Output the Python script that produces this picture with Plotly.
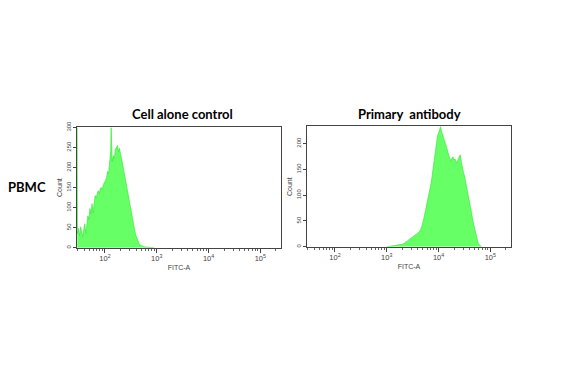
import plotly.graph_objects as go

# ---- data (log10 FITC-A bin positions and event counts) ----
ctrl_log = [1.465,1.47,1.49,1.51,1.53,1.55,1.57,1.59,1.61,1.63,1.65,1.67,1.69,1.71,1.73,1.75,1.77,1.79,1.81,1.83,
            1.85,1.87,1.89,1.91,1.93,1.95,1.97,1.99,2.01,2.03,2.05,2.07,2.09,2.11,2.12,2.13,2.14,2.16,2.18,2.20,
            2.22,2.24,2.26,2.28,2.30,2.32,2.34,2.36,2.38,2.40,2.42,2.44,2.46,2.48,2.50,2.52,2.54,2.56,2.58,2.60,
            2.62,2.64,2.66,2.68,2.70,2.74,2.78,2.82,2.87,2.95]
ctrl_count = [300,35,48,30,52,40,28,45,60,35,55,80,70,98,85,110,88,120,130,125,
              138,142,135,148,150,145,158,162,168,175,190,185,220,240,300,250,215,230,222,245,
              250,255,240,248,235,225,210,195,180,170,155,140,130,115,98,85,70,55,40,30,
              22,15,10,7,5,3,2,1,1,0]

prim_log = [3.00,3.06,3.12,3.18,3.24,3.30,3.34,3.38,3.42,3.46,3.50,3.54,3.58,3.62,3.65,3.68,3.71,3.74,3.77,3.80,
            3.83,3.86,3.89,3.92,3.94,3.96,3.98,4.00,4.02,4.04,4.06,4.08,4.10,4.12,4.14,4.16,4.18,4.20,4.22,4.24,
            4.26,4.28,4.30,4.32,4.34,4.36,4.38,4.40,4.42,4.44,4.46,4.48,4.50,4.52,4.54,4.56,4.58,4.60,4.62,4.64,
            4.66,4.68,4.70,4.72,4.74,4.76,4.78,4.80,4.83]
prim_count = [0,1,2,3,3,5,7,10,13,16,19,22,24,28,33,40,52,65,78,95,
              110,125,150,172,190,205,215,220,226,233,222,218,210,205,198,192,183,175,170,165,
              172,174,168,170,165,162,170,174,178,165,152,145,138,128,120,110,98,88,78,65,
              52,42,32,22,15,9,5,2,0]

titles = ["Cell alone control", "Primary  antibody"]
row_label = "PBMC"
x_title = "FITC-A"
y_title = "Count"
ctrl_yticks = [0, 50, 100, 150, 200, 250, 300]
prim_yticks = [0, 50, 100, 150, 200]

fill_col = "#66ff66"
edge_col = "#2ee82e"

fig = go.Figure()
fig.add_trace(go.Scatter(x=[10 ** v for v in ctrl_log], y=ctrl_count, mode="lines",
                         line=dict(color=edge_col, width=0.6), fill="tozeroy", fillcolor=fill_col,
                         xaxis="x", yaxis="y", showlegend=False, hoverinfo="skip"))
fig.add_trace(go.Scatter(x=[10 ** v for v in prim_log], y=prim_count, mode="lines",
                         line=dict(color=edge_col, width=0.6), fill="tozeroy", fillcolor=fill_col,
                         xaxis="x2", yaxis="y2", showlegend=False, hoverinfo="skip"))

# page body has an 8px margin; figure occupies the remaining area
OFF = 8
W, H = 582 - 2 * OFF, 378 - 2 * OFF
def px(x): return (x - OFF) / W
def py(y): return 1 - (y - OFF) / H

tickfont = dict(family="Arial", size=6, color="#444")
common_x = dict(type="log", range=[1.46, 5.4], dtick=1, exponentformat="power", showgrid=False,
                zeroline=False, showline=True, linecolor="#444", linewidth=1, mirror=True,
                ticks="outside", ticklen=4, tickcolor="#444", tickfont=tickfont,
                minor=dict(ticks="outside", ticklen=2, tickcolor="#666", showgrid=False),
                title=dict(text=x_title, font=dict(family="Arial", size=7, color="#444"), standoff=2))
common_y = dict(showgrid=False, zeroline=False, showline=True, linecolor="#444", linewidth=1, mirror=True,
                ticks="outside", ticklen=3, tickcolor="#444", tickfont=tickfont, tickangle=-90,
                title=dict(text=y_title, font=dict(family="Arial", size=7, color="#444"), standoff=2))

fig.update_layout(
    width=W, height=H, margin=dict(l=0, r=0, t=0, b=0),
    paper_bgcolor="white", plot_bgcolor="white",
    xaxis=dict(domain=[px(77), px(281)], anchor="y", **common_x),
    yaxis=dict(domain=[py(246), py(123)], anchor="x", range=[0, 300], tickvals=ctrl_yticks, **common_y),
    xaxis2=dict(domain=[px(307), px(511)], anchor="y2", **common_x),
    yaxis2=dict(domain=[py(245), py(122)], anchor="x2", range=[0, 233], tickvals=prim_yticks, **common_y),
    annotations=[
        dict(text="<b>" + titles[0] + "</b>", x=px(182), y=py(109), xref="paper", yref="paper",
             xanchor="center", yanchor="middle",
             showarrow=False, font=dict(family="Lato", size=13, color="black")),
        dict(text="<b>" + titles[1] + "</b>", x=px(409), y=py(109), xref="paper", yref="paper",
             xanchor="center", yanchor="middle",
             showarrow=False, font=dict(family="Lato", size=13, color="black")),
        dict(text="<b>" + row_label + "</b>", x=px(27), y=py(184), xref="paper", yref="paper",
             xanchor="center", yanchor="middle",
             showarrow=False, font=dict(family="Lato", size=13, color="black")),
    ],
)

fig.write_html("out.html")
